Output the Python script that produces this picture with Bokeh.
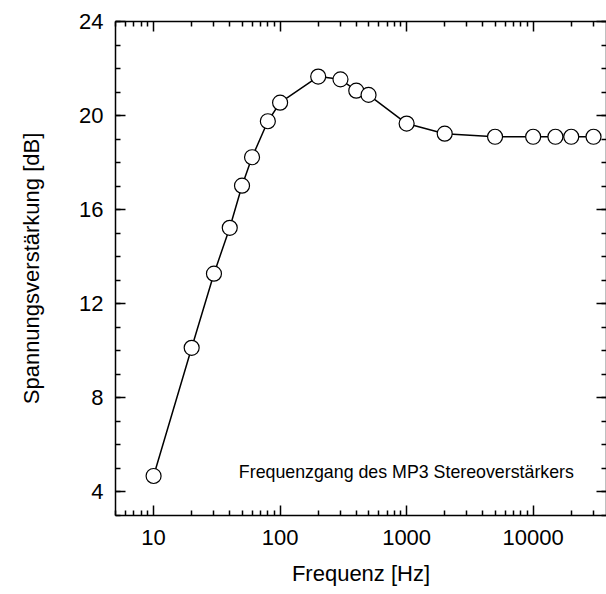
from bokeh.plotting import figure
from bokeh.models import LogAxis, LinearAxis, FixedTicker, Range1d, Label
from bokeh.embed import file_html
from bokeh.resources import INLINE

# data
freq = [10, 20, 30, 40, 50, 60, 80, 100, 200, 300, 400, 500, 1000, 2000, 5000,
        10000, 15000, 20000, 30000]
gain = [4.68, 10.13, 13.28, 15.23, 17.02, 18.23, 19.76, 20.55, 21.66, 21.54, 21.06,
        20.88, 19.66, 19.23, 19.10, 19.10, 19.10, 19.10, 19.10]

x_ticks = [10, 100, 1000, 10000]
x_tick_labels = ["10", "100", "1000", "10000"]
x_minor = [m * 10 ** e for e in range(0, 5) for m in range(2, 10)]
y_ticks = [4, 8, 12, 16, 20, 24]
y_tick_labels = ["4", "8", "12", "16", "20", "24"]
y_minor = list(range(3, 25))

x_title = "Frequenz [Hz]"
y_title = "Spannungsverstärkung [dB]"
note = "Frequenzgang des MP3 Stereoverstärkers"

FONT = "Liberation Sans"

p = figure(width=606, height=594, x_axis_type="log",
           x_range=Range1d(5, 38000), y_range=Range1d(3, 24),
           output_backend="svg", toolbar_location=None,
           min_border_left=115, min_border_right=0,
           min_border_top=21, min_border_bottom=79)
p.xgrid.grid_line_color = None
p.ygrid.grid_line_color = None
p.outline_line_color = None
p.background_fill_color = "white"
p.border_fill_color = "white"


def style(ax, show_labels=True):
    ax.axis_line_width = 1.5
    ax.axis_line_color = "black"
    ax.major_tick_in = 10
    ax.major_tick_out = 0
    ax.minor_tick_in = 5
    ax.minor_tick_out = 0
    ax.major_tick_line_width = 1.5
    ax.minor_tick_line_width = 1.5
    ax.major_tick_line_color = "black"
    ax.minor_tick_line_color = "black"
    ax.major_label_text_font = FONT
    ax.major_label_text_color = "black"
    ax.axis_label_text_color = "black"
    if show_labels:
        ax.major_label_text_font_size = "22px"
    else:
        ax.major_label_text_font_size = "1px"
        ax.major_label_text_alpha = 0
        ax.major_label_standoff = 0


xt = FixedTicker(ticks=x_ticks, minor_ticks=x_minor)
yt = FixedTicker(ticks=y_ticks, minor_ticks=y_minor)

xa = p.xaxis[0]
xa.ticker = xt
xa.major_label_overrides = dict(zip(x_ticks, x_tick_labels))
style(xa)
xa.major_label_standoff = 14
xa.axis_label = x_title
xa.axis_label_text_font = FONT
xa.axis_label_text_font_size = "22px"
xa.axis_label_text_font_style = "normal"
xa.axis_label_standoff = 13

ya = p.yaxis[0]
ya.ticker = yt
ya.major_label_overrides = dict(zip(y_ticks, y_tick_labels))
style(ya)
ya.major_label_standoff = 12
ya.axis_label = y_title
ya.axis_label_text_font = FONT
ya.axis_label_text_font_size = "22px"
ya.axis_label_text_font_style = "normal"
ya.axis_label_standoff = 32

top = LogAxis(ticker=FixedTicker(ticks=x_ticks, minor_ticks=x_minor))
style(top, show_labels=False)
p.add_layout(top, "above")

right = LinearAxis(ticker=FixedTicker(ticks=y_ticks, minor_ticks=y_minor))
style(right, show_labels=False)
p.add_layout(right, "right")

p.line(freq, gain, line_color="black", line_width=1.5)
p.scatter(freq, gain, size=15, marker="circle", fill_color="white",
          line_color="black", line_width=1.2)

p.add_layout(Label(x=21000, y=4.85, text=note,
                   text_font=FONT, text_font_size="17.8px", text_align="right",
                   text_baseline="middle", text_color="black"))

open("out.html", "w").write(file_html(p, INLINE))
